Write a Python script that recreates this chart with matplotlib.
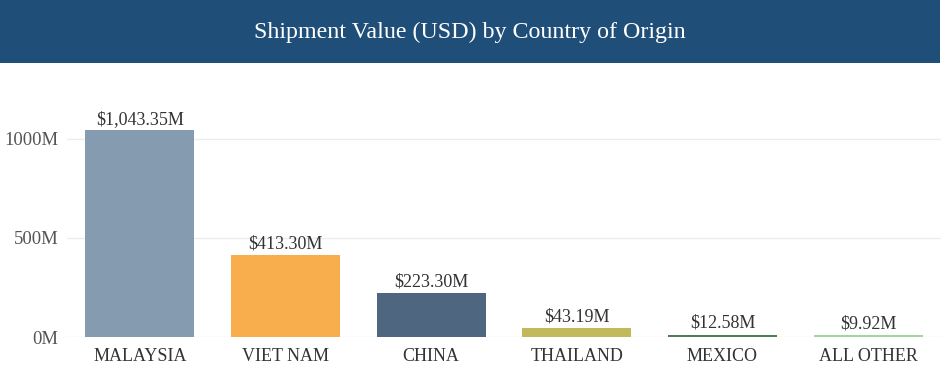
import matplotlib
matplotlib.use("Agg")
import matplotlib.pyplot as plt
from matplotlib.patches import Rectangle

countries = ["MALAYSIA", "VIET NAM", "CHINA", "THAILAND", "MEXICO", "ALL OTHER"]
values_musd = [1043.35, 413.30, 223.30, 43.19, 12.58, 9.92]
value_labels = ["$1,043.35M", "$413.30M", "$223.30M", "$43.19M", "$12.58M", "$9.92M"]
bar_colors = ["#849bb0", "#f8ae4d", "#4e6680", "#c2b95a", "#4e7d52", "#a3d69e"]
yticks = [0, 500, 1000]
ytick_labels = ["0M", "500M", "1000M"]
title = "Shipment Value (USD) by Country of Origin"

W, H = 943, 371
fig = plt.figure(figsize=(W / 100, H / 100), dpi=100)
plt.rcParams['font.family'] = ['Liberation Serif', 'DejaVu Serif']

# title bar
fig.patches.append(Rectangle((0, 1 - 63 / H), 940 / W, 63 / H, transform=fig.transFigure,
                             facecolor="#1f4e79", edgecolor="none", zorder=0))
fig.text((940 / 2) / W, 1 - 32 / H, title, color="white", fontsize=17.3,
         ha="center", va="center")

left, right = 67 / W, 941 / W
bottom = 1 - 337 / H
ymax = 1200
top_px = 337 - 198 * ymax / 1000
ax = fig.add_axes([left, bottom, right - left, (337 - top_px) / H])
x = list(range(len(countries)))
ax.bar(x, values_musd, width=0.75, color=bar_colors, zorder=2)
ax.set_xlim(-0.5, len(countries) - 0.5)
ax.set_ylim(0, ymax)
ax.set_yticks(yticks)
ax.set_yticklabels(ytick_labels, color="#555555", fontsize=13.5)
ax.set_xticks(x)
ax.set_xticklabels(countries, color="#333333", fontsize=13)
ax.tick_params(axis="both", length=0)
ax.tick_params(axis="y", pad=6)
ax.tick_params(axis="x", pad=8)
ax.grid(axis="y", color="#ececec", linewidth=1, zorder=0)
for s in ax.spines.values():
    s.set_visible(False)
for xi, v, lab in zip(x, values_musd, value_labels):
    ax.annotate(lab, (xi, v), xytext=(0, 2), textcoords="offset points",
                ha="center", va="bottom", fontsize=13, color="#333333")

fig.savefig("out.png", dpi=100)
